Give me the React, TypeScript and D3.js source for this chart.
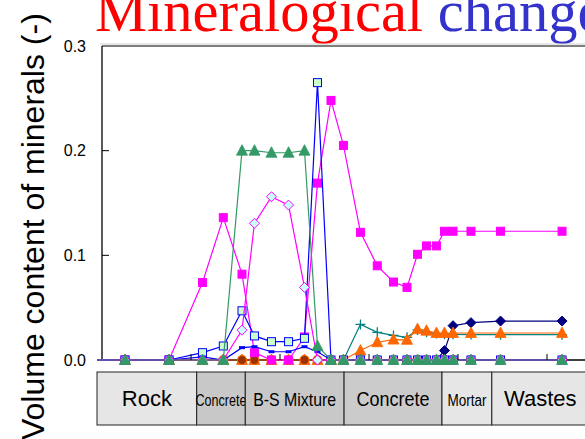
import React from "react";
import * as d3 from "d3";

// sample positions along the profile (x units, ticks every 10)
const xPositions = [-0.56, 2.58, 7.53, 11.29, 13.63, 15.73, 17.13, 19.04, 20.96, 22.75, 24.21, 25.73, 27.13, 29.04, 30.93, 32.75, 34.27, 35.45, 36.46, 37.58, 38.48, 39.44, 41.46, 44.78, 51.69];

const navyDiamonds = [0, 0, 0, 0, 0, 0, 0, 0, 0, 0, 0, 0, 0, 0, 0, 0, 0, 0, 0, 0, 0.009, 0.0328, 0.0357, 0.0372, 0.0372];
const tealCrosses = [0, 0, 0, 0, 0, 0, 0, 0, 0, 0, 0, 0, 0, 0.034, 0.0264, 0.0235, 0.0217, 0.0287, 0.0266, 0.0252, 0.0246, 0.0245, 0.0243, 0.0242, 0.0242];
const orangeTriangles = [0, 0, 0, 0, 0, 0, 0, 0, 0, 0, 0, 0, 0, 0.009, 0.017, 0.0195, 0.0193, 0.0295, 0.028, 0.0258, 0.0258, 0.0258, 0.0258, 0.0258, 0.0258];
const brownCircles = [0, 0, 0, 0, 0, 0, 0, 0, 0, 0, 0, 0, 0, 0, 0, 0, 0, 0, 0, 0, 0, 0, 0, 0, 0];
const magentaSquares = [0, 0, 0, 0.074, 0.136, 0.082, 0.007, 0, 0, 0.022, 0.169, 0.248, 0.205, 0.122, 0.09, 0.0745, 0.0694, 0.101, 0.109, 0.109, 0.123, 0.123, 0.123, 0.123, 0.123];
const greenSquares = [0, 0, 0, 0.007, 0.0134, 0.047, 0.023, 0.0175, 0.0175, 0.0207, 0.265, 0, 0, 0, 0, 0, 0, 0, 0, 0, 0, 0, 0, 0, 0];
const blueDashes = [0, 0, 0, 0.003, 0, 0.0118, 0.0127, 0.0079, 0.0079, 0.0127, 0.0079, 0, 0, 0, 0, 0, 0, 0, 0, 0, 0, 0, 0, 0, 0];
const pinkDiamonds = [0, 0, 0, 0, 0, 0.0285, 0.1306, 0.156, 0.148, 0.0694, 0, 0, 0, 0, 0, 0, 0, 0, 0, 0, 0, 0, 0, 0, 0];
const greenTriangles = [0, 0, 0, 0, 0, 0.2, 0.2, 0.198, 0.198, 0.2, 0.0134, 0, 0, 0, 0, 0, 0, 0, 0, 0, 0, 0, 0, 0, 0];

const yTicks = [0, 0.1, 0.2, 0.3];
const yTickLabels = ["0.0", "0.1", "0.2", "0.3"];
const xTicks = [10, 20, 30, 40, 50];

const materials = ["Rock", "Concrete", "B-S Mixture", "Concrete", "Mortar", "Wastes"];
const materialBounds = [-0.56, 10.64, 16.1, 27.2, 38.2, 43.8, 54.7];

// styles (separate from data)
const materialFills = ["#e6e6e6", "#c8c8c8", "#c8c8c8", "#cbcbcb", "#e6e6e6", "#e6e6e6"];
const materialFont = [22, 17, 18.5, 20, 16, 22];
const materialLen: (number | null)[] = [null, 51, 83, 73, 39, null];

const W = 585;
const H = 439;
const x = d3.scaleLinear().domain([0, 60]).range([102, 636]);
const y = d3.scaleLinear().domain([0, 0.3]).range([360, 46]);

type Kind = "square" | "diamond" | "triangle" | "cross" | "dash" | "circle";
interface SeriesDef {
  values: number[];
  kind: Kind;
  line: string;
  fill: string;
  stroke: string;
}

const series: SeriesDef[] = [
  { values: navyDiamonds, kind: "diamond", line: "#000080", fill: "#000080", stroke: "#000080" },
  { values: tealCrosses, kind: "cross", line: "#008080", fill: "none", stroke: "#008080" },
  { values: orangeTriangles, kind: "triangle", line: "#ff6600", fill: "#ff6600", stroke: "#ff6600" },
  { values: brownCircles, kind: "circle", line: "#993300", fill: "#993300", stroke: "#ff6600" },
  { values: magentaSquares, kind: "square", line: "#ff00ff", fill: "#ff00ff", stroke: "#ff00ff" },
  { values: greenSquares, kind: "square", line: "#0000ff", fill: "#ccffcc", stroke: "#0000ff" },
  { values: blueDashes, kind: "dash", line: "#0000ff", fill: "#0000ff", stroke: "#0000ff" },
  { values: pinkDiamonds, kind: "diamond", line: "#ff00ff", fill: "#ccffff", stroke: "#ff00ff" },
  { values: greenTriangles, kind: "triangle", line: "#339966", fill: "#339966", stroke: "#339966" },
];

function Marker({ kind, cx, cy, fill, stroke }: { kind: Kind; cx: number; cy: number; fill: string; stroke: string }) {
  switch (kind) {
    case "square":
      return <rect x={cx - 4} y={cy - 4} width={8} height={8} fill={fill} stroke={stroke} strokeWidth={1} />;
    case "diamond":
      return (
        <polygon
          points={`${cx},${cy - 5} ${cx + 5},${cy} ${cx},${cy + 5} ${cx - 5},${cy}`}
          fill={fill}
          stroke={stroke}
          strokeWidth={1}
        />
      );
    case "triangle":
      return (
        <polygon
          points={`${cx},${cy - 6} ${cx + 5.5},${cy + 4.5} ${cx - 5.5},${cy + 4.5}`}
          fill={fill}
          stroke={stroke}
          strokeWidth={0.8}
        />
      );
    case "cross":
      return <path d={`M${cx - 5},${cy}H${cx + 5}M${cx},${cy - 5}V${cy + 5}`} stroke={stroke} strokeWidth={1.3} fill="none" />;
    case "dash":
      return <rect x={cx - 3} y={cy - 1.5} width={6} height={3} fill={fill} />;
    case "circle":
      return <circle cx={cx} cy={cy} r={4.5} fill={fill} stroke={stroke} strokeWidth={1.2} />;
  }
  return null;
}

export default function App() {
  const line = d3
    .line<number>()
    .x((_, i) => x(xPositions[i]))
    .y((d) => y(d));

  return (
    <svg
      width={W}
      height={H}
      viewBox={`0 0 ${W} ${H}`}
      style={{ position: "absolute", left: 0, top: 0, background: "#ffffff" }}
      fontFamily="'Liberation Sans', Arial, sans-serif"
    >
      <rect x={0} y={0} width={W} height={H} fill="#ffffff" />
      {/* title */}
      <text x={95} y={30.5} fontFamily="'Liberation Serif', 'Times New Roman', serif" fontSize={58.5}>
        <tspan fill="#ff0000">Mineralogical</tspan>
        <tspan fill="#3333cc"> changes</tspan>
      </text>

      {/* y axis label */}
      <text
        transform={`translate(43.5, 440) rotate(-90)`}
        fontSize={32}
        fill="#000"
        textAnchor="start"
      >
        Volume content of minerals (-)
      </text>

      {/* frame */}
      <line x1={100} x2={W} y1={44} y2={44} stroke="#d0d0d0" strokeWidth={1} />
      <line x1={x(0)} x2={W} y1={y(0.3)} y2={y(0.3)} stroke="#000" strokeWidth={1} />
      <line x1={x(0)} x2={x(0)} y1={y(0.3)} y2={y(0)} stroke="#000" strokeWidth={1.3} />
      <line x1={x(0)} x2={W} y1={y(0)} y2={y(0)} stroke="#000" strokeWidth={1.3} />

      {yTicks.map((t, i) => (
        <g key={"yt" + i}>
          {t > 0 && t < 0.3 && <line x1={x(0)} x2={x(0) + 7} y1={y(t)} y2={y(t)} stroke="#000" strokeWidth={1} />}
          <text x={86} y={y(t)} dy="0.36em" textAnchor="end" fontSize={16} fill="#000">
            {yTickLabels[i]}
          </text>
        </g>
      ))}

      {/* series */}
      {series.map((s, si) => (
        <g key={"s" + si}>
          <path d={line(s.values) || ""} fill="none" stroke={s.line} strokeWidth={1.2} />
          {s.values.map((v, i) =>
            xPositions[i] >= 0 ? (
              <Marker key={i} kind={s.kind} cx={x(xPositions[i])} cy={y(v)} fill={s.fill} stroke={s.stroke} />
            ) : null
          )}
        </g>
      ))}

      {/* x ticks */}
      {xTicks.map((t) => (
        <line key={"xt" + t} x1={x(t)} x2={x(t)} y1={y(0)} y2={y(0) - 6} stroke="#000" strokeWidth={1} />
      ))}

      {/* material bands */}
      {materials.map((m, i) => {
        const x0 = x(materialBounds[i]);
        const x1 = x(materialBounds[i + 1]);
        const len = materialLen[i];
        return (
          <g key={"m" + i}>
            <rect x={x0} y={372} width={x1 - x0} height={53} fill={materialFills[i]} stroke="#222" strokeWidth={1} />
            <text
              x={(x0 + x1) / 2}
              y={406}
              textAnchor="middle"
              fontSize={materialFont[i]}
              fill="#000"
              {...(len ? { textLength: len, lengthAdjust: "spacingAndGlyphs" } : {})}
            >
              {m}
            </text>
          </g>
        );
      })}
    </svg>
  );
}
